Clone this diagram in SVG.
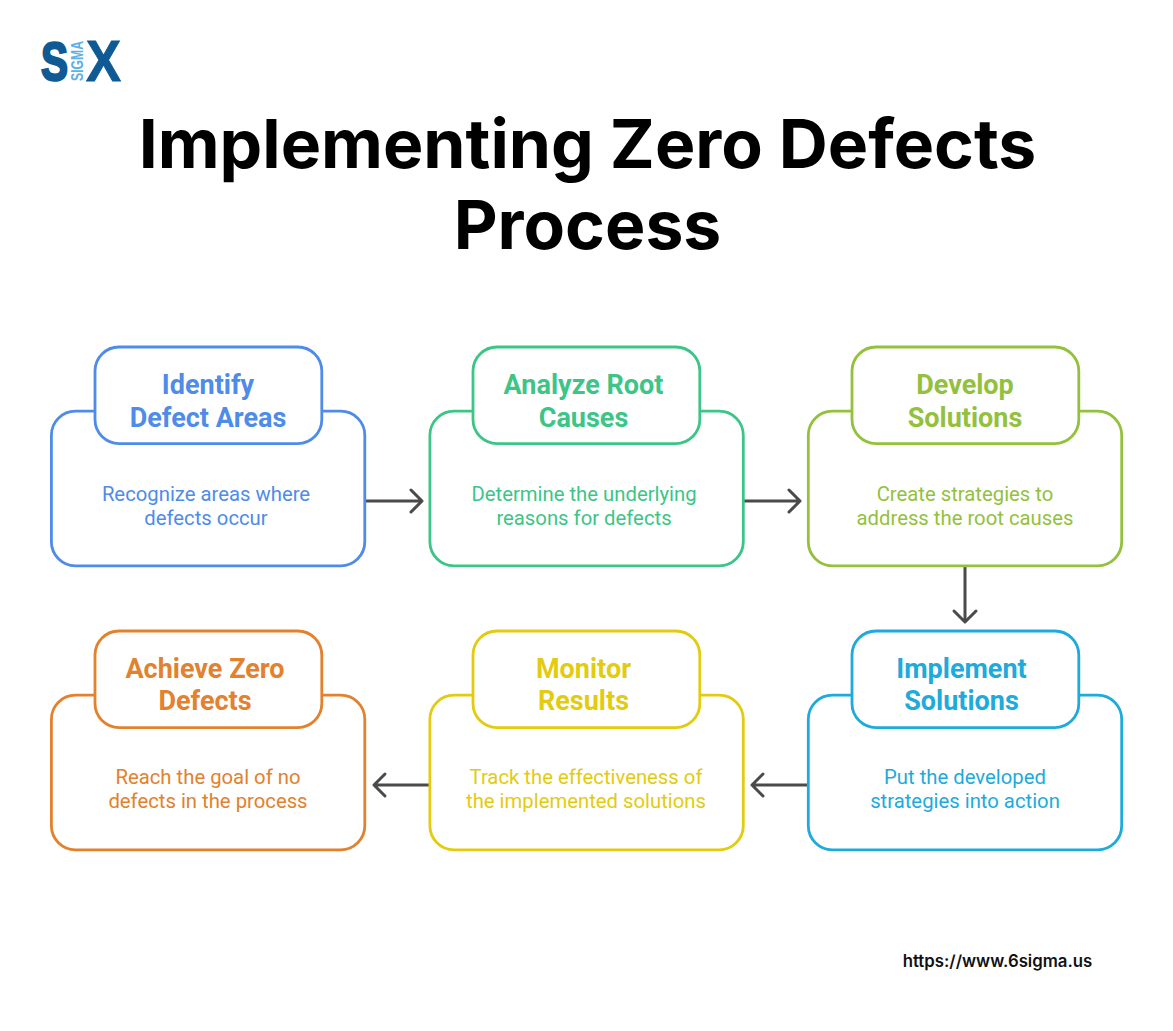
<svg xmlns="http://www.w3.org/2000/svg" width="1173" height="1031" viewBox="0 0 1173 1031">
<style>
.b{fill:#fff;stroke-width:2.8}
.h{font:700 27px Roboto,sans-serif;text-anchor:middle}
.d{font:400 20.3px Roboto,sans-serif;text-anchor:middle}
.t{font:700 67.8px Inter,sans-serif;text-anchor:middle;fill:#000}
.c{fill:none;stroke:#4a4a4a;stroke-width:3;stroke-linecap:round;stroke-linejoin:round}
</style>
<rect width="1173" height="1031" fill="#fff"/>
<g id="logo">
<text x="41" y="80" font-family="Liberation Sans, sans-serif" font-weight="700" font-size="54" fill="#0f5a94" stroke="#0f5a94" stroke-width="2.5" textLength="27" lengthAdjust="spacingAndGlyphs">S</text>
<text transform="translate(83,81) rotate(-90)" font-family="Liberation Sans, sans-serif" font-weight="700" font-size="17" fill="#5eb0e5" textLength="40" lengthAdjust="spacingAndGlyphs">SIGMA</text>
<text x="86" y="81" font-family="Liberation Sans, sans-serif" font-weight="700" font-size="57" fill="#0f5a94" stroke="#0f5a94" stroke-width="1" textLength="35" lengthAdjust="spacingAndGlyphs">X</text>
</g>
<g id="title">
<text class="t" x="587.5" y="168">Implementing Zero Defects</text>
<text class="t" x="587.5" y="249">Process</text>
</g>
<g id="connectors">
<path class="c" d="M366 501H422M411 490L422 501L411 512"/>
<path class="c" d="M744 501H800M789 490L800 501L789 512"/>
<path class="c" d="M965 567V622M954 611L965 622L976 611"/>
<path class="c" d="M807 785H752M763 774L752 785L763 796"/>
<path class="c" d="M429 785H374M385 774L374 785L385 796"/>
</g>
<g id="node1" fill="#4f8be8" stroke="#4f8be8">
<rect class="b" x="51.4" y="411.2" width="313.4" height="154.6" rx="24"/>
<rect class="b" x="95" y="347" width="226.8" height="96.6" rx="24"/>
<g stroke="none"><text class="h" x="208" y="394">Identify</text><text class="h" x="208" y="426.5">Defect Areas</text>
<text class="d" x="206" y="500.5">Recognize areas where</text><text class="d" x="206" y="524.5">defects occur</text></g>
</g>
<g id="node2" fill="#3cc587" stroke="#3cc587">
<rect class="b" x="429.9" y="411.2" width="313.4" height="154.6" rx="24"/>
<rect class="b" x="473" y="347" width="226.8" height="96.6" rx="24"/>
<g stroke="none"><text class="h" x="583.5" y="394">Analyze Root</text><text class="h" x="583.5" y="426.5">Causes</text>
<text class="d" x="584" y="500.5">Determine the underlying</text><text class="d" x="584" y="524.5">reasons for defects</text></g>
</g>
<g id="node3" fill="#93c13d" stroke="#93c13d">
<rect class="b" x="808.3" y="411.2" width="313.4" height="154.6" rx="24"/>
<rect class="b" x="852" y="347" width="226.8" height="96.6" rx="24"/>
<g stroke="none"><text class="h" x="965" y="394">Develop</text><text class="h" x="965" y="426.5">Solutions</text>
<text class="d" x="965" y="500.5">Create strategies to</text><text class="d" x="965" y="524.5">address the root causes</text></g>
</g>
<g id="node4" fill="#1eaadc" stroke="#1eaadc">
<rect class="b" x="808.3" y="695.2" width="313.4" height="154.6" rx="24"/>
<rect class="b" x="852" y="631" width="226.8" height="96.6" rx="24"/>
<g stroke="none"><text class="h" x="961.5" y="678">Implement</text><text class="h" x="961.5" y="710.4">Solutions</text>
<text class="d" x="965" y="784">Put the developed</text><text class="d" x="965" y="808">strategies into action</text></g>
</g>
<g id="node5" fill="#e3cb10" stroke="#e3cb10">
<rect class="b" x="429.9" y="695.2" width="313.4" height="154.6" rx="24"/>
<rect class="b" x="473" y="631" width="226.8" height="96.6" rx="24"/>
<g stroke="none"><text class="h" x="583.5" y="678">Monitor</text><text class="h" x="583.5" y="710.4">Results</text>
<text class="d" x="586" y="784">Track the effectiveness of</text><text class="d" x="586" y="808">the implemented solutions</text></g>
</g>
<g id="node6" fill="#e2812e" stroke="#e2812e">
<rect class="b" x="51.4" y="695.2" width="313.4" height="154.6" rx="24"/>
<rect class="b" x="95" y="631" width="226.8" height="96.6" rx="24"/>
<g stroke="none"><text class="h" x="205" y="678">Achieve Zero</text><text class="h" x="205" y="710.4">Defects</text>
<text class="d" x="208" y="784">Reach the goal of no</text><text class="d" x="208" y="808">defects in the process</text></g>
</g>
<g id="url"><text x="997.5" y="967" text-anchor="middle" font-family="Inter, sans-serif" font-weight="600" font-size="16.8" fill="#111">https://www.6sigma.us</text></g>
</svg>
